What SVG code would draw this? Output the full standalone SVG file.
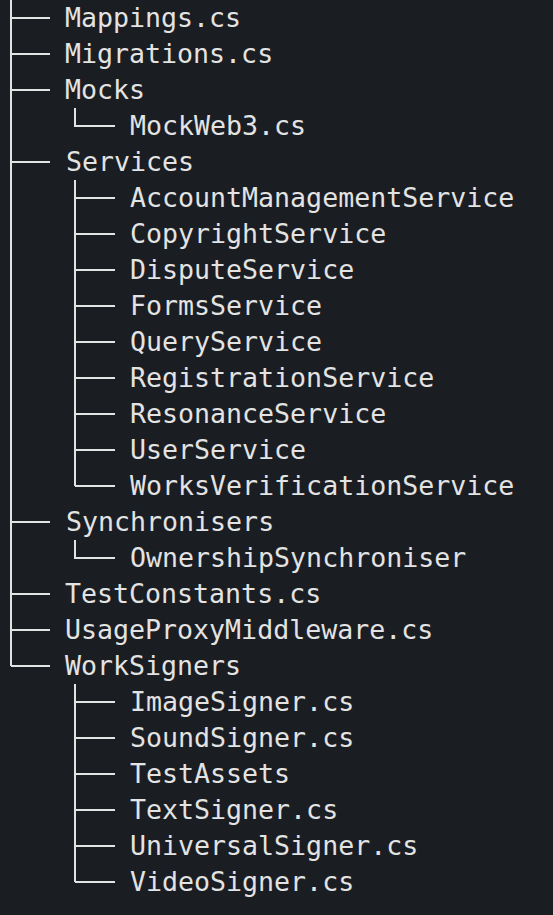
<svg xmlns="http://www.w3.org/2000/svg" width="553" height="915" viewBox="0 0 553 915">
<style>
.t{font-family:"DejaVu Sans Mono","Liberation Mono",monospace;font-size:26.6px;fill:#e3e3e3}
.l{stroke:#e3e3e3;stroke-width:2;fill:none}
</style>
<rect width="553" height="915" fill="#1a1d22"/>
<g id="connectors" class="l">
<path d="M11 0V666M11 18H50M11 54H50M11 90H50M11 162H50M11 522H50M11 594H50M11 630H50M11 666H50"/>
<path d="M75 108V126H115"/>
<path d="M75 180V486M75 198H115M75 234H115M75 270H115M75 306H115M75 342H115M75 378H115M75 414H115M75 450H115M75 486H115"/>
<path d="M75 540V558H115"/>
<path d="M75 684V882M75 702H115M75 738H115M75 774H115M75 810H115M75 846H115M75 882H115"/>
</g>
<g id="n-mappings"><text class="t" x="65" y="27">Mappings.cs</text></g>
<g id="n-migrations"><text class="t" x="65" y="63">Migrations.cs</text></g>
<g id="n-mocks"><text class="t" x="65" y="99">Mocks</text></g>
<g id="n-mockweb3"><text class="t" x="130" y="135">MockWeb3.cs</text></g>
<g id="n-services"><text class="t" x="66" y="171">Services</text></g>
<g id="n-account"><text class="t" x="130" y="207">AccountManagementService</text></g>
<g id="n-copyright"><text class="t" x="130" y="243">CopyrightService</text></g>
<g id="n-dispute"><text class="t" x="130" y="279">DisputeService</text></g>
<g id="n-forms"><text class="t" x="130" y="315">FormsService</text></g>
<g id="n-query"><text class="t" x="130" y="351">QueryService</text></g>
<g id="n-registration"><text class="t" x="130" y="387">RegistrationService</text></g>
<g id="n-resonance"><text class="t" x="130" y="423">ResonanceService</text></g>
<g id="n-user"><text class="t" x="130" y="459">UserService</text></g>
<g id="n-works"><text class="t" x="130" y="495">WorksVerificationService</text></g>
<g id="n-sync"><text class="t" x="66" y="531">Synchronisers</text></g>
<g id="n-ownership"><text class="t" x="130" y="567">OwnershipSynchroniser</text></g>
<g id="n-testconstants"><text class="t" x="65" y="603">TestConstants.cs</text></g>
<g id="n-usage"><text class="t" x="65" y="639">UsageProxyMiddleware.cs</text></g>
<g id="n-worksigners"><text class="t" x="65" y="675">WorkSigners</text></g>
<g id="n-image"><text class="t" x="130" y="711">ImageSigner.cs</text></g>
<g id="n-sound"><text class="t" x="130" y="747">SoundSigner.cs</text></g>
<g id="n-testassets"><text class="t" x="130" y="783">TestAssets</text></g>
<g id="n-text"><text class="t" x="130" y="819">TextSigner.cs</text></g>
<g id="n-universal"><text class="t" x="130" y="855">UniversalSigner.cs</text></g>
<g id="n-video"><text class="t" x="130" y="891">VideoSigner.cs</text></g>
</svg>
